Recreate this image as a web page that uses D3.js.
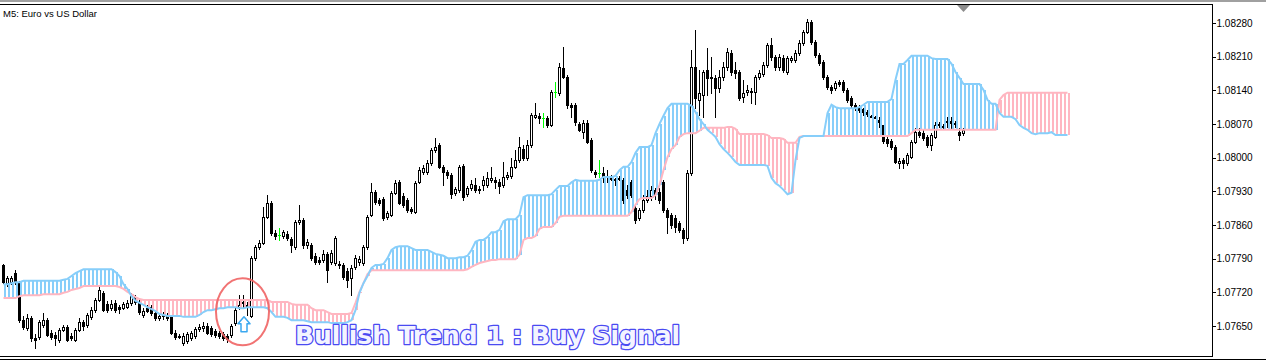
<!DOCTYPE html>
<html><head><meta charset="utf-8">
<script src="https://cdn.jsdelivr.net/npm/d3@7"></script>
<style>html,body{margin:0;padding:0;background:#fff;overflow:hidden}</style>
</head><body>
<svg id="c" width="1266" height="361"></svg>
<script>
const chartTitle = "M5:  Euro vs US Dollar";
const signalText = "Bullish Trend 1 : Buy Signal";
const priceTicks = [1.07650,1.07720,1.07790,1.07860,1.07930,1.08000,1.08070,1.08140,1.08210,1.08280];
const open = [1.07777,1.07739,1.07741,1.07760,1.07741,1.07662,1.07646,1.07667,1.07625,1.07627,
1.07652,1.07662,1.07635,1.07631,1.07621,1.07642,1.07648,1.07629,1.07621,1.07642,
1.07658,1.07652,1.07669,1.07683,1.07704,1.07719,1.07696,1.07687,1.07698,1.07689,
1.07687,1.07689,1.07698,1.07710,1.07700,1.07673,1.07687,1.07689,1.07677,1.07667,
1.07671,1.07673,1.07669,1.07635,1.07629,1.07615,1.07619,1.07625,1.07629,1.07644,
1.07646,1.07650,1.07646,1.07640,1.07635,1.07633,1.07629,1.07631,1.07656,1.07689,
1.07698,1.07692,1.07671,1.07791,1.07814,1.07823,1.07877,1.07906,1.07843,1.07839,
1.07837,1.07841,1.07831,1.07814,1.07866,1.07870,1.07818,1.07818,1.07796,1.07787,
1.07787,1.07800,1.07783,1.07781,1.07779,1.07777,1.07764,1.07750,1.07773,1.07783,
1.07781,1.07814,1.07881,1.07929,1.07912,1.07914,1.07877,1.07881,1.07927,1.07949,
1.07920,1.07912,1.07893,1.07887,1.07949,1.07970,1.07970,1.07989,1.08016,1.08026,
1.07981,1.07970,1.07964,1.07927,1.07933,1.07983,1.07924,1.07937,1.07943,1.07935,
1.07943,1.07943,1.07954,1.07954,1.07949,1.07943,1.07960,1.07962,1.07981,1.07995,
1.08018,1.07999,1.08026,1.08085,1.08087,1.08083,1.08083,1.08068,1.08137,1.08135,
1.08187,1.08168,1.08110,1.08110,1.08070,1.08053,1.08072,1.08037,1.07970,1.07968,
1.07968,1.07962,1.07958,1.07956,1.07958,1.07954,1.07933,1.07949,1.07895,1.07875,
1.07891,1.07912,1.07920,1.07933,1.07929,1.07949,1.07891,1.07881,1.07875,1.07864,
1.07850,1.07833,1.07968,1.08189,1.08120,1.08130,1.08182,1.08168,1.08166,1.08145,
1.08168,1.08189,1.08218,1.08182,1.08178,1.08126,1.08137,1.08139,1.08137,1.08168,
1.08174,1.08193,1.08234,1.08209,1.08189,1.08207,1.08178,1.08203,1.08203,1.08218,
1.08239,1.08261,1.08282,1.08241,1.08214,1.08199,1.08168,1.08147,1.08145,1.08157,
1.08157,1.08141,1.08124,1.08110,1.08105,1.08101,1.08095,1.08087,1.08085,1.08078,
1.08068,1.08039,1.08035,1.08022,1.07989,1.07995,1.07989,1.08001,1.08033,1.08053,
1.08051,1.08043,1.08026,1.08043,1.08068,1.08066,1.08074,1.08076,1.08072,1.08053,
1.08051];
const high = [1.07779,1.07754,1.07754,1.07766,1.07744,1.07671,1.07675,1.07671,1.07633,1.07662,
1.07677,1.07667,1.07642,1.07637,1.07646,1.07652,1.07652,1.07635,1.07646,1.07667,
1.07662,1.07677,1.07689,1.07708,1.07731,1.07723,1.07702,1.07704,1.07704,1.07694,
1.07700,1.07704,1.07719,1.07714,1.07704,1.07687,1.07694,1.07694,1.07681,1.07677,
1.07679,1.07677,1.07671,1.07642,1.07633,1.07635,1.07637,1.07640,1.07648,1.07654,
1.07658,1.07656,1.07650,1.07644,1.07640,1.07637,1.07633,1.07654,1.07687,1.07714,
1.07714,1.07700,1.07796,1.07818,1.07829,1.07897,1.07922,1.07910,1.07850,1.07854,
1.07850,1.07848,1.07835,1.07870,1.07902,1.07875,1.07831,1.07823,1.07802,1.07793,
1.07808,1.07804,1.07808,1.07837,1.07785,1.07781,1.07771,1.07777,1.07798,1.07796,
1.07818,1.07881,1.07947,1.07933,1.07916,1.07918,1.07889,1.07931,1.07954,1.07954,
1.07927,1.07916,1.07897,1.07952,1.07981,1.07985,1.07995,1.08020,1.08041,1.08031,
1.07985,1.07974,1.07968,1.07939,1.07985,1.07987,1.07941,1.07954,1.07958,1.07941,
1.07962,1.07970,1.07981,1.07960,1.07956,1.07991,1.07970,1.07999,1.08016,1.08043,
1.08026,1.08037,1.08093,1.08114,1.08093,1.08093,1.08087,1.08141,1.08157,1.08197,
1.08230,1.08172,1.08114,1.08114,1.08074,1.08078,1.08078,1.08041,1.07974,1.07995,
1.07981,1.07974,1.07964,1.07958,1.07962,1.07958,1.07943,1.07954,1.07902,1.07895,
1.07922,1.07933,1.07941,1.07937,1.07937,1.07954,1.07895,1.07885,1.07881,1.07868,
1.07854,1.07974,1.08224,1.08266,1.08182,1.08182,1.08228,1.08209,1.08172,1.08182,
1.08199,1.08228,1.08224,1.08199,1.08182,1.08162,1.08151,1.08145,1.08172,1.08182,
1.08199,1.08239,1.08249,1.08214,1.08216,1.08214,1.08212,1.08212,1.08224,1.08245,
1.08266,1.08288,1.08286,1.08245,1.08218,1.08203,1.08172,1.08151,1.08160,1.08162,
1.08162,1.08145,1.08128,1.08114,1.08110,1.08103,1.08099,1.08089,1.08087,1.08085,
1.08068,1.08043,1.08039,1.08026,1.07999,1.07999,1.08010,1.08037,1.08062,1.08062,
1.08058,1.08047,1.08051,1.08074,1.08074,1.08070,1.08085,1.08085,1.08076,1.08062,
1.08062];
const low = [1.07739,1.07733,1.07737,1.07737,1.07658,1.07644,1.07642,1.07619,1.07604,1.07623,
1.07648,1.07629,1.07623,1.07610,1.07617,1.07640,1.07619,1.07621,1.07619,1.07640,
1.07642,1.07648,1.07664,1.07679,1.07702,1.07681,1.07679,1.07683,1.07679,1.07677,
1.07685,1.07687,1.07694,1.07696,1.07675,1.07669,1.07679,1.07673,1.07662,1.07662,
1.07664,1.07662,1.07633,1.07623,1.07625,1.07610,1.07615,1.07621,1.07625,1.07640,
1.07640,1.07633,1.07629,1.07627,1.07625,1.07621,1.07617,1.07627,1.07652,1.07685,
1.07687,1.07673,1.07669,1.07787,1.07810,1.07820,1.07875,1.07839,1.07831,1.07829,
1.07833,1.07829,1.07804,1.07810,1.07862,1.07812,1.07812,1.07787,1.07779,1.07779,
1.07783,1.07741,1.07779,1.07777,1.07771,1.07748,1.07731,1.07714,1.07768,1.07777,
1.07777,1.07810,1.07879,1.07904,1.07902,1.07870,1.07872,1.07879,1.07924,1.07904,
1.07897,1.07887,1.07885,1.07885,1.07947,1.07966,1.07966,1.07985,1.08012,1.07979,
1.07943,1.07958,1.07916,1.07922,1.07929,1.07912,1.07920,1.07933,1.07929,1.07927,
1.07933,1.07939,1.07949,1.07937,1.07927,1.07939,1.07956,1.07958,1.07979,1.07991,
1.07995,1.07995,1.08022,1.08083,1.08072,1.08064,1.08064,1.08066,1.08126,1.08130,
1.08166,1.08103,1.08085,1.08068,1.08056,1.08041,1.08031,1.07970,1.07960,1.07960,
1.07949,1.07949,1.07954,1.07943,1.07954,1.07906,1.07916,1.07918,1.07864,1.07870,
1.07887,1.07908,1.07912,1.07914,1.07906,1.07887,1.07843,1.07854,1.07845,1.07845,
1.07823,1.07829,1.07964,1.08103,1.08089,1.08085,1.08130,1.08135,1.08085,1.08137,
1.08162,1.08182,1.08172,1.08166,1.08120,1.08116,1.08130,1.08114,1.08112,1.08164,
1.08170,1.08189,1.08203,1.08182,1.08182,1.08178,1.08174,1.08199,1.08199,1.08214,
1.08234,1.08259,1.08236,1.08209,1.08193,1.08164,1.08143,1.08135,1.08141,1.08149,
1.08137,1.08116,1.08105,1.08099,1.08095,1.08089,1.08087,1.08085,1.08083,1.08064,
1.08031,1.08024,1.08018,1.07989,1.07979,1.07979,1.07985,1.07999,1.08031,1.08043,
1.08037,1.08022,1.08016,1.08041,1.08064,1.08062,1.08064,1.08062,1.08064,1.08037,
1.08047];
const close = [1.07741,1.07750,1.07750,1.07741,1.07662,1.07648,1.07667,1.07625,1.07621,1.07658,
1.07662,1.07631,1.07627,1.07625,1.07642,1.07648,1.07621,1.07625,1.07642,1.07658,
1.07650,1.07673,1.07683,1.07704,1.07725,1.07683,1.07683,1.07696,1.07683,1.07685,
1.07696,1.07698,1.07712,1.07700,1.07679,1.07681,1.07681,1.07677,1.07667,1.07671,
1.07673,1.07667,1.07635,1.07627,1.07627,1.07629,1.07633,1.07635,1.07644,1.07648,
1.07650,1.07635,1.07633,1.07631,1.07629,1.07625,1.07623,1.07650,1.07683,1.07694,
1.07700,1.07694,1.07791,1.07814,1.07823,1.07877,1.07906,1.07843,1.07837,1.07839,
1.07845,1.07833,1.07818,1.07866,1.07870,1.07818,1.07825,1.07791,1.07783,1.07783,
1.07800,1.07766,1.07802,1.07833,1.07777,1.07752,1.07746,1.07771,1.07791,1.07789,
1.07814,1.07877,1.07929,1.07908,1.07906,1.07875,1.07885,1.07927,1.07947,1.07906,
1.07902,1.07891,1.07889,1.07947,1.07974,1.07979,1.07989,1.08016,1.08022,1.07981,
1.07970,1.07964,1.07924,1.07935,1.07981,1.07918,1.07937,1.07945,1.07933,1.07933,
1.07954,1.07958,1.07958,1.07949,1.07941,1.07960,1.07964,1.07981,1.07995,1.08022,
1.07999,1.08026,1.08089,1.08089,1.08083,1.08083,1.08068,1.08137,1.08137,1.08189,
1.08168,1.08110,1.08105,1.08074,1.08058,1.08072,1.08033,1.07974,1.07966,1.07968,
1.07960,1.07960,1.07956,1.07954,1.07956,1.07912,1.07922,1.07922,1.07870,1.07891,
1.07912,1.07920,1.07933,1.07924,1.07912,1.07891,1.07877,1.07860,1.07856,1.07850,
1.07833,1.07968,1.08189,1.08124,1.08135,1.08178,1.08166,1.08166,1.08145,1.08168,
1.08189,1.08220,1.08178,1.08176,1.08124,1.08135,1.08141,1.08137,1.08168,1.08176,
1.08193,1.08234,1.08209,1.08189,1.08209,1.08182,1.08207,1.08207,1.08218,1.08239,
1.08261,1.08282,1.08241,1.08214,1.08197,1.08168,1.08147,1.08141,1.08155,1.08153,
1.08141,1.08120,1.08110,1.08103,1.08099,1.08095,1.08091,1.08085,1.08083,1.08074,
1.08035,1.08031,1.08022,1.07991,1.07993,1.07989,1.08006,1.08033,1.08053,1.08047,
1.08041,1.08026,1.08047,1.08068,1.08070,1.08064,1.08076,1.08072,1.08070,1.08047,
1.08058];
const spanA = [1.07737,1.07737,1.07739,1.07741,1.07741,1.07744,1.07744,1.07744,1.07744,1.07744,
1.07744,1.07744,1.07744,1.07744,1.07744,1.07746,1.07748,1.07754,1.07760,1.07764,
1.07768,1.07768,1.07768,1.07768,1.07768,1.07768,1.07768,1.07768,1.07762,1.07754,
1.07737,1.07727,1.07712,1.07702,1.07698,1.07694,1.07689,1.07685,1.07681,1.07675,
1.07673,1.07671,1.07671,1.07671,1.07671,1.07669,1.07669,1.07669,1.07669,1.07673,
1.07679,1.07683,1.07683,1.07685,1.07687,1.07687,1.07689,1.07689,1.07689,1.07687,
1.07687,1.07689,1.07689,1.07689,1.07689,1.07689,1.07687,1.07679,1.07669,1.07669,
1.07669,1.07667,1.07662,1.07662,1.07662,1.07662,1.07660,1.07658,1.07658,1.07658,
1.07658,1.07658,1.07656,1.07656,1.07656,1.07656,1.07658,1.07662,1.07683,1.07719,
1.07739,1.07754,1.07771,1.07777,1.07777,1.07779,1.07791,1.07808,1.07814,1.07816,
1.07816,1.07816,1.07812,1.07808,1.07808,1.07808,1.07808,1.07804,1.07800,1.07798,
1.07796,1.07791,1.07791,1.07791,1.07793,1.07793,1.07796,1.07808,1.07825,1.07829,
1.07829,1.07835,1.07845,1.07845,1.07850,1.07868,1.07872,1.07872,1.07872,1.07881,
1.07918,1.07922,1.07922,1.07922,1.07922,1.07922,1.07922,1.07924,1.07933,1.07941,
1.07941,1.07941,1.07949,1.07954,1.07952,1.07952,1.07952,1.07952,1.07952,1.07954,
1.07960,1.07960,1.07960,1.07962,1.07974,1.07981,1.07981,1.07991,1.08010,1.08022,
1.08022,1.08022,1.08026,1.08051,1.08070,1.08087,1.08103,1.08112,1.08112,1.08112,
1.08112,1.08112,1.08108,1.08095,1.08080,1.08070,1.08058,1.08051,1.08043,1.08028,
1.08018,1.08010,1.08001,1.07991,1.07985,1.07985,1.07985,1.07985,1.07985,1.07985,
1.07985,1.07983,1.07958,1.07947,1.07941,1.07933,1.07924,1.07927,1.07995,1.08041,
1.08045,1.08045,1.08045,1.08045,1.08045,1.08045,1.08093,1.08110,1.08105,1.08103,
1.08103,1.08103,1.08103,1.08103,1.08105,1.08110,1.08116,1.08116,1.08116,1.08116,
1.08116,1.08116,1.08122,1.08162,1.08195,1.08195,1.08203,1.08212,1.08212,1.08212,
1.08212,1.08212,1.08207,1.08205,1.08205,1.08205,1.08205,1.08195,1.08178,1.08166,
1.08153,1.08153,1.08153,1.08153,1.08153,1.08141,1.08120,1.08112,1.08112,1.08093,
1.08085,1.08085,1.08085,1.08080,1.08068,1.08062,1.08058,1.08051,1.08049,1.08051,
1.08051,1.08051,1.08053,1.08047,1.08047,1.08047,1.08047];
const spanB = [1.07708,1.07708,1.07708,1.07708,1.07712,1.07714,1.07714,1.07714,1.07714,1.07714,
1.07716,1.07716,1.07716,1.07716,1.07716,1.07719,1.07721,1.07725,1.07727,1.07729,
1.07733,1.07733,1.07733,1.07733,1.07733,1.07733,1.07733,1.07733,1.07733,1.07731,
1.07727,1.07721,1.07716,1.07710,1.07706,1.07704,1.07704,1.07704,1.07704,1.07704,
1.07704,1.07704,1.07704,1.07704,1.07704,1.07704,1.07704,1.07704,1.07704,1.07704,
1.07704,1.07704,1.07704,1.07704,1.07704,1.07704,1.07704,1.07704,1.07704,1.07704,
1.07704,1.07704,1.07704,1.07704,1.07704,1.07704,1.07704,1.07700,1.07700,1.07700,
1.07700,1.07700,1.07696,1.07694,1.07694,1.07694,1.07694,1.07687,1.07683,1.07683,
1.07683,1.07679,1.07675,1.07675,1.07675,1.07675,1.07675,1.07677,1.07698,1.07721,
1.07739,1.07758,1.07766,1.07766,1.07766,1.07766,1.07766,1.07766,1.07766,1.07766,
1.07766,1.07766,1.07766,1.07766,1.07766,1.07766,1.07766,1.07766,1.07766,1.07766,
1.07766,1.07766,1.07766,1.07766,1.07766,1.07766,1.07768,1.07773,1.07777,1.07781,
1.07783,1.07785,1.07787,1.07787,1.07789,1.07789,1.07789,1.07789,1.07789,1.07798,
1.07829,1.07833,1.07833,1.07837,1.07852,1.07856,1.07856,1.07856,1.07864,1.07877,
1.07879,1.07879,1.07879,1.07879,1.07879,1.07879,1.07879,1.07879,1.07879,1.07879,
1.07879,1.07879,1.07879,1.07879,1.07879,1.07879,1.07879,1.07887,1.07902,1.07914,
1.07916,1.07916,1.07916,1.07922,1.07943,1.07974,1.08001,1.08018,1.08026,1.08043,
1.08049,1.08051,1.08051,1.08051,1.08056,1.08062,1.08062,1.08062,1.08062,1.08062,
1.08062,1.08064,1.08064,1.08060,1.08049,1.08049,1.08049,1.08049,1.08049,1.08049,
1.08049,1.08047,1.08041,1.08041,1.08041,1.08039,1.08031,1.08031,1.08031,1.08043,
1.08045,1.08045,1.08045,1.08045,1.08045,1.08045,1.08045,1.08045,1.08045,1.08045,
1.08045,1.08045,1.08045,1.08045,1.08045,1.08045,1.08045,1.08045,1.08045,1.08045,
1.08045,1.08045,1.08045,1.08045,1.08045,1.08045,1.08045,1.08051,1.08058,1.08058,
1.08058,1.08058,1.08058,1.08058,1.08058,1.08058,1.08058,1.08058,1.08058,1.08058,
1.08058,1.08058,1.08058,1.08058,1.08058,1.08058,1.08058,1.08058,1.08058,1.08120,
1.08130,1.08135,1.08135,1.08135,1.08135,1.08135,1.08135,1.08135,1.08135,1.08135,
1.08135,1.08135,1.08135,1.08135,1.08135,1.08135,1.08135];
const signalBar = 60;
const signalPrice = 1.07669;

const svg = d3.select("#c");
const W = 1266, H = 361, plotR = 1212, plotT = 4, plotB = 356;
const x = d3.scaleLinear().domain([0, 266]).range([3, 1067]);
const y = d3.scaleLinear().domain([1.0765, 1.0828]).range([326, 23]);

svg.append("rect").attr("width", W).attr("height", H).attr("fill", "#fff");
svg.append("rect").attr("x",0).attr("y",0).attr("width",W).attr("height",2).attr("fill","#a0a0a0");

const defs = svg.append("defs");
defs.append("clipPath").attr("id","plot").append("rect")
  .attr("x",0).attr("y",plotT+1).attr("width",plotR).attr("height",plotB-plotT-1);

const plot = svg.append("g").attr("clip-path","url(#plot)");

// candles
const n = open.length;
const bars = d3.range(n).map(i => ({i, o: open[i], h: high[i], l: low[i], c: close[i]}));
const cg = plot.append("g").attr("shape-rendering","crispEdges");
bars.forEach(b => {
  const cx = Math.round(x(b.i));
  const doji = b.o === b.c;
  const col = doji ? "#00ff00" : "#000";
  cg.append("line").attr("x1", cx+0.5).attr("x2", cx+0.5)
    .attr("y1", Math.round(y(b.h))).attr("y2", Math.round(y(b.l))+1)
    .attr("stroke", col).attr("stroke-width", 1);
  const yo = Math.round(y(b.o)), yc = Math.round(y(b.c));
  if (doji) {
    cg.append("rect").attr("x", cx-1).attr("y", yo).attr("width", 3).attr("height", 1).attr("fill", col);
  } else if (b.c < b.o) {
    cg.append("rect").attr("x", cx-1).attr("y", yo).attr("width", 3).attr("height", Math.max(1, yc-yo+1)).attr("fill", "#000");
  } else {
    cg.append("rect").attr("x", cx-0.5).attr("y", yc+0.5).attr("width", 2).attr("height", Math.max(0, yo-yc))
      .attr("fill", "#fff").attr("stroke", "#000").attr("stroke-width", 1);
  }
});

// cloud
const blue = "#87cefa", pink = "#ffb6c1";
const kg = plot.append("g").attr("shape-rendering","crispEdges");
d3.range(spanA.length).forEach(i => {
  const a = spanA[i], b = spanB[i];
  if (a === b) return;
  const cx = Math.round(x(i));
  const y1 = Math.round(y(Math.max(a,b))), y2 = Math.round(y(Math.min(a,b)));
  kg.append("rect").attr("x", cx+1).attr("y", y1).attr("width", 2).attr("height", y2-y1)
    .attr("fill", a > b ? blue : pink);
});
const lineA = d3.line().x((d,i) => x(i)+0.5).y(d => y(d));
plot.append("path").attr("d", lineA(spanB)).attr("fill","none").attr("stroke",pink).attr("stroke-width",2);
plot.append("path").attr("d", lineA(spanA)).attr("fill","none").attr("stroke",blue).attr("stroke-width",2);

// frame
const fg = svg.append("g").attr("shape-rendering","crispEdges");
fg.append("line").attr("x1",0).attr("x2",plotR+1).attr("y1",plotT+0.5).attr("y2",plotT+0.5).attr("stroke","#000");
fg.append("line").attr("x1",plotR+0.5).attr("x2",plotR+0.5).attr("y1",plotT).attr("y2",plotB+1).attr("stroke","#000");
fg.append("line").attr("x1",0).attr("x2",plotR+1).attr("y1",plotB+0.5).attr("y2",plotB+0.5).attr("stroke","#000");
fg.append("line").attr("x1",0).attr("x2",W).attr("y1",plotB+3.5).attr("y2",plotB+3.5).attr("stroke","#000");

// axis
const ax = svg.append("g").attr("transform", `translate(${plotR+0.5},0)`)
  .call(d3.axisRight(y).tickValues(priceTicks).tickFormat(d3.format(".5f")).tickSize(3).tickPadding(1));
ax.select(".domain").remove();
ax.selectAll("text").attr("font-family","'Liberation Sans', Arial, sans-serif").attr("font-size","10px").attr("fill","#000");
ax.selectAll("line").attr("stroke","#000").attr("shape-rendering","crispEdges");

// title
svg.append("text").attr("x",3).attr("y",17).text(chartTitle)
  .attr("font-family","'Liberation Sans', Arial, sans-serif").attr("font-size","9.5px").attr("fill","#000");

// shift marker triangle
const lastX = Math.round(x(n-1));
svg.append("path").attr("d", `M${lastX-6},${plotT+1}L${lastX+7},${plotT+1}L${lastX+0.5},${plotT+8}Z`).attr("fill","#8c8c8c");

// signal annotation
const sx = x(signalBar), sy = y(signalPrice);
svg.append("ellipse").attr("cx", sx-0.5).attr("cy", sy-5).attr("rx", 26.5).attr("ry", 33.5)
  .attr("fill","none").attr("stroke","#f06464").attr("stroke-opacity",0.9).attr("stroke-width",2);
svg.append("path")
  .attr("d", `M${sx+1},${sy} L${sx+7},${sy+7} L${sx+4},${sy+7} L${sx+4},${sy+15} L${sx-2},${sy+15} L${sx-2},${sy+7} L${sx-5},${sy+7} Z`)
  .attr("fill","#fff").attr("stroke","#3aa8f0").attr("stroke-width",1.5).attr("stroke-linejoin","round");

svg.append("text").attr("x",295).attr("y",344).text(signalText)
  .attr("font-family","'DejaVu Sans', sans-serif").attr("font-weight","bold").attr("font-size","25px")
  .attr("textLength",385).attr("lengthAdjust","spacingAndGlyphs")
  .attr("fill","#f3f4ff").attr("stroke","#4a4af2").attr("stroke-width",2.6).attr("paint-order","stroke")
  .attr("stroke-linejoin","round");
</script>
</body></html>
